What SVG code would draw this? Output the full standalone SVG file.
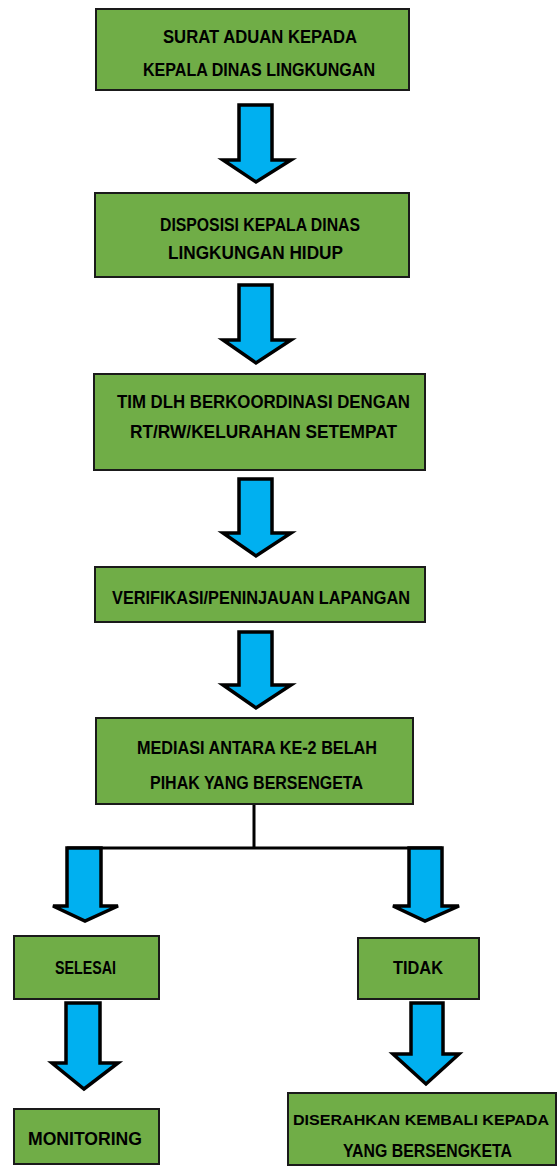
<svg xmlns="http://www.w3.org/2000/svg" width="558" height="1167" viewBox="0 0 558 1167">
<style>
.box{fill:#70ad47;stroke:#1a1a1a;stroke-width:2}
.t{font-family:"Liberation Sans",Arial,sans-serif;font-weight:bold;font-size:18px;fill:#000}
.arr{fill:#00b0f0;stroke:#000;stroke-width:3.5;stroke-linejoin:miter}
.ln{stroke:#000;stroke-width:3;fill:none}
</style>
<rect width="558" height="1167" fill="#fff"/>
<g id="connectors">
<polygon class="arr" points="239,105 272,105 272,160 291,160 256,182 223,160 239,160"/>
<polygon class="arr" points="239,285 272,285 272,340 291,340 256,363 223,340 239,340"/>
<polygon class="arr" points="239,479 272,479 272,533 291,533 256,556 223,533 239,533"/>
<polygon class="arr" points="239,632 272,632 272,685 291,685 256,708 223,685 239,685"/>
<path class="ln" d="M254,804 V848 M67,848 H442"/>
<polygon class="arr" points="67,848 101,848 101,906 118,906 85,921 53,906 67,906"/>
<polygon class="arr" points="409,848 442,848 442,906 459,906 425,921 393,906 409,906"/>
<polygon class="arr" points="66,1003 100,1003 100,1063 118,1063 84,1089 52,1063 66,1063"/>
<polygon class="arr" points="411,1003 443,1003 443,1054 459,1054 426,1084 393,1054 411,1054"/>
</g>
<g id="n1"><rect class="box" x="96" y="9" width="313" height="81"/>
<text class="t" x="163" y="43" textLength="194" lengthAdjust="spacingAndGlyphs">SURAT ADUAN KEPADA</text>
<text class="t" x="143" y="76" textLength="232" lengthAdjust="spacingAndGlyphs">KEPALA DINAS LINGKUNGAN</text></g>
<g id="n2"><rect class="box" x="95" y="193" width="314" height="84"/>
<text class="t" x="160" y="231" textLength="200" lengthAdjust="spacingAndGlyphs">DISPOSISI KEPALA DINAS</text>
<text class="t" x="168" y="259" textLength="175" lengthAdjust="spacingAndGlyphs">LINGKUNGAN HIDUP</text></g>
<g id="n3"><rect class="box" x="94" y="374" width="331" height="96"/>
<text class="t" x="117" y="408" textLength="293" lengthAdjust="spacingAndGlyphs">TIM DLH BERKOORDINASI DENGAN</text>
<text class="t" x="130" y="438" textLength="267" lengthAdjust="spacingAndGlyphs">RT/RW/KELURAHAN SETEMPAT</text></g>
<g id="n4"><rect class="box" x="95" y="567" width="330" height="55"/>
<text class="t" x="112" y="604" textLength="298" lengthAdjust="spacingAndGlyphs">VERIFIKASI/PENINJAUAN LAPANGAN</text></g>
<g id="n5"><rect class="box" x="96" y="718" width="317" height="86"/>
<text class="t" x="137" y="754" textLength="240" lengthAdjust="spacingAndGlyphs">MEDIASI ANTARA KE-2 BELAH</text>
<text class="t" x="150" y="789" textLength="213" lengthAdjust="spacingAndGlyphs">PIHAK YANG BERSENGETA</text></g>
<g id="n6"><rect class="box" x="14" y="936" width="145" height="63"/>
<text class="t" x="55" y="974" textLength="61" lengthAdjust="spacingAndGlyphs">SELESAI</text></g>
<g id="n7"><rect class="box" x="358" y="938" width="121" height="61"/>
<text class="t" x="393" y="974" textLength="50" lengthAdjust="spacingAndGlyphs">TIDAK</text></g>
<g id="n8"><rect class="box" x="14" y="1109" width="145" height="55"/>
<text class="t" x="28" y="1145" textLength="114" lengthAdjust="spacingAndGlyphs">MONITORING</text></g>
<g id="n9"><rect class="box" x="288" y="1093" width="268" height="72"/>
<text class="t" x="293" y="1125" style="font-size:15.5px" textLength="256" lengthAdjust="spacingAndGlyphs">DISERAHKAN KEMBALI KEPADA</text>
<text class="t" x="343" y="1157" textLength="169" lengthAdjust="spacingAndGlyphs">YANG BERSENGKETA</text></g>
</svg>
